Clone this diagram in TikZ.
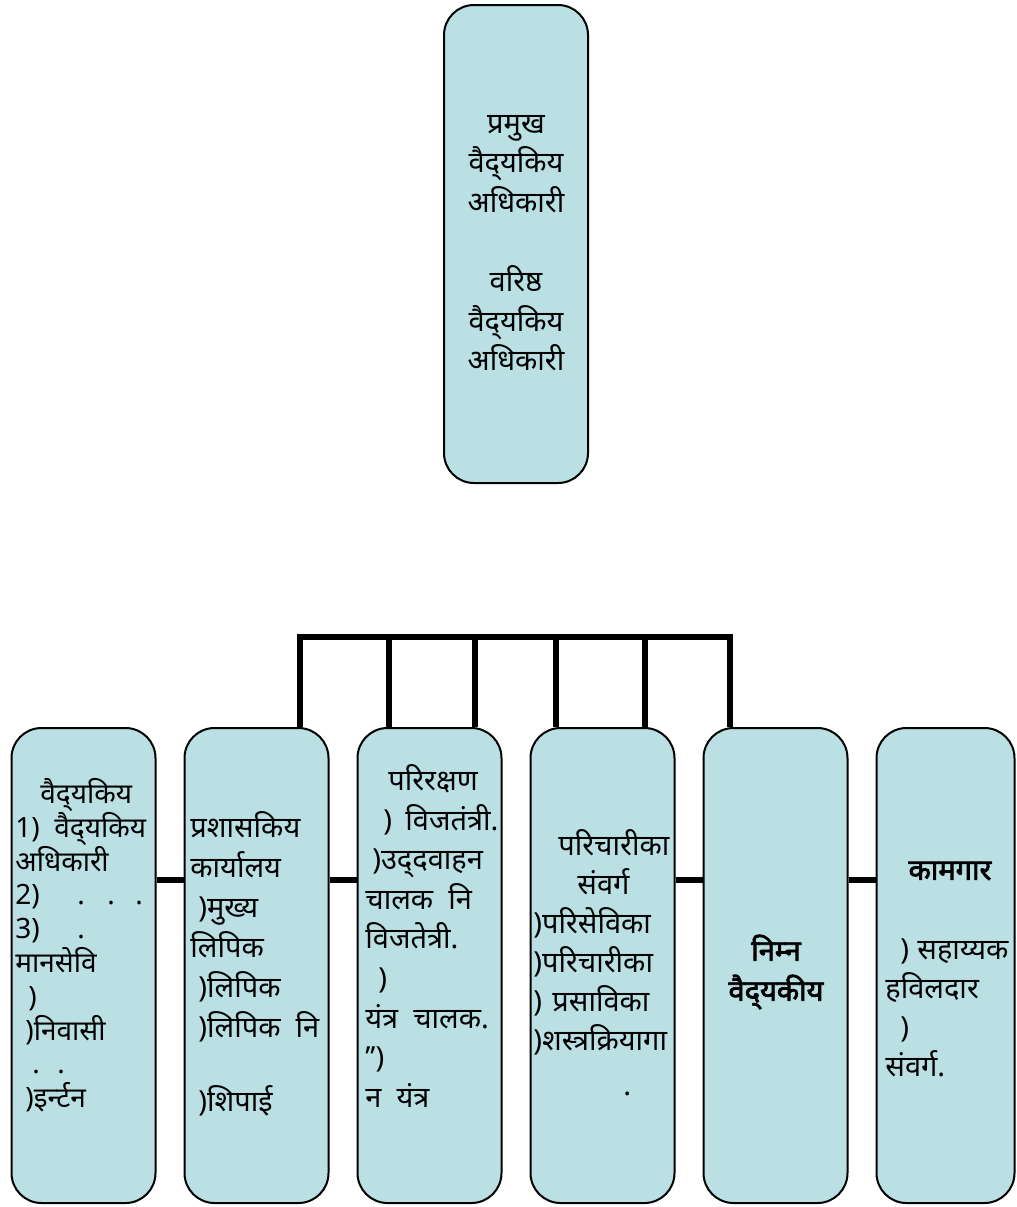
\documentclass[tikz,border=0pt]{standalone}
\usepackage{fontspec}
\newfontfamily\deva[Script=Devanagari]{Noto Sans}
\newfontfamily\devabold[Script=Devanagari, FakeBold=2.5]{Noto Sans}
\usepackage{tikz}
\usetikzlibrary{positioning}
\definecolor{boxblue}{RGB}{186,224,228}
\newcommand{\nojoin}{^^^^200c}
\newcommand{\tightlines}{\lineskiplimit=-20pt\relax}
\tikzstyle{cadre}=[rectangle, rounded corners=15pt, draw=black, fill=boxblue, line width=1pt, minimum width=72pt, minimum height=237.5pt]
\tikzstyle{link}=[line width=3pt]
\tikzstyle{txt}=[inner sep=0pt, anchor=north west, align=left]

\begin{document}
\begin{tikzpicture}[x=0.5pt, y=-0.5pt, node distance=13.5pt]
          \useasboundingbox (0,0) rectangle (1017,1207);
          \node[cadre, minimum height=239pt] (head) at (516,244) {};
          \node[txt, anchor=center, align=center, font=\deva\fontsize{14.5}{19.8}\selectfont] (headtxt) at (516,243)
                {प्रमुख\\वैद्\nojoin यकिय\\अधिकारी\\[19.8pt]वरिष्ठ\\वैद्\nojoin यकिय\\अधिकारी};

          \node[cadre] (b1) at (83.5,965.5) {};
          \node[cadre] (b2) [right=of b1] {};
          \node[cadre] (b3) [right=of b2] {};
          \node[cadre] (b4) [right=of b3] {};
          \node[cadre] (b5) [right=of b4] {};
          \node[cadre, minimum width=69pt] (b6) [right=of b5] {};

          \node[txt, font={\deva\fontsize{14}{16.9}\selectfont\tightlines}] (b1txt) at (15,778)
                {\hspace*{12.5pt}वैद्\nojoin यकिय\\1)\ \ वैद्\nojoin यकिय\\अधिकारी\\
                 \makebox[31pt][l]{2)}\makebox[15pt][l]{.}\makebox[14pt][l]{.}.\\\makebox[31pt][l]{3)}.\\
                 मानसेवि\\\hspace*{6.5pt})\\\hspace*{5pt})निवासी\\\hspace*{8.5pt}\makebox[12.5pt][l]{.}.\\\hspace*{5pt})इर्न्टन};
          \node[txt, font=\deva\fontsize{14.5}{20}\selectfont] (b2txt) at (190,811)
                {प्रशासकिय\\कार्यालय\\\hspace*{4pt})मुख्य\\लिपिक\\\hspace*{4pt})लिपिक\\\hspace*{4pt})लिपिक\ \ नि\\[17pt]\hspace*{4pt})शिपाई};
          \node[txt, font=\deva\fontsize{14.5}{19.8}\selectfont] (b3txt) at (365,764)
                {\hspace*{11.5pt}परिरक्षण\\\hspace*{9pt}\makebox[11pt][l]{)}विजतंत्री.\\\hspace*{3.5pt})उद्\nojoin दवाहन\\चालक\ \ नि\\विजतेत्री.\\
                 \hspace*{6.5pt})\\यंत्र\ \ चालक.\\’’)\\न\ \ यंत्र};
          \node[txt, font=\deva\fontsize{14.5}{19.5}\selectfont] (b4txt) at (533,829)
                {\hspace*{12.5pt}परिचारीका\\\hspace*{22pt}संवर्ग\\)परिसेविका\\)परिचारीका\\\makebox[9.5pt][l]{)}प्रसाविका\\)शस्त्रक्रियागा\\[3pt]\hspace*{45pt}.};
          \node[txt, anchor=center, align=center, font=\devabold\fontsize{14.5}{20}\selectfont] (b5txt) at (776,972)
                {निम्न\\वैद्\nojoin यकीय};
          \node[txt, anchor=center, font=\devabold\fontsize{14.5}{19.5}\selectfont] (b6head) at (950,871) {कामगार};
          \node[txt, font=\deva\fontsize{14.5}{19.5}\selectfont] (b6txt) at (885,938)
                {\makebox[16pt][l]{\hspace*{7.5pt})}सहाय्यक\\हविलदार\\\hspace*{7.5pt})\\संवर्ग.};

          \draw[link] ([yshift=43pt]b1.east) -- ([yshift=43pt]b2.west);
          \draw[link] ([yshift=43pt]b2.east) -- ([yshift=43pt]b3.west);
          \draw[link] ([yshift=43pt]b4.east) -- ([yshift=43pt]b5.west);
          \draw[link] ([yshift=43pt]b5.east) -- ([yshift=43pt]b6.west);

          \coordinate (busl) at (300,637);
          \coordinate (busr) at (730,637);
          \draw[link, line cap=rect] (busl) -- (busr);
          \foreach \x in {300,389,475,556,645,730}
                \draw[link] (\x,637) -- (\x,637 |- b2.north);
\end{tikzpicture}
\end{document}
